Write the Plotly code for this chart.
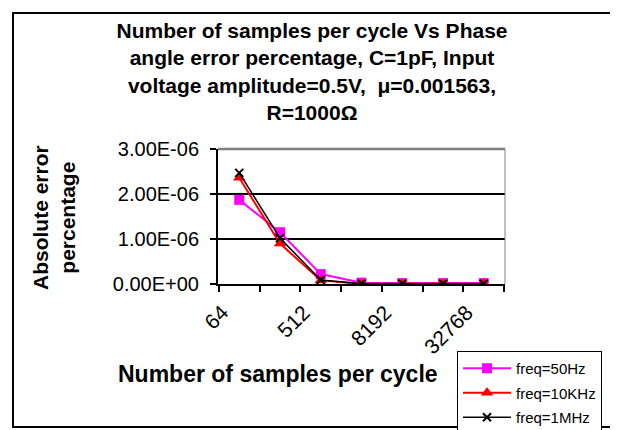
import plotly.graph_objects as go

# ---- data ----
samples = ["64", "256", "512", "2048", "8192", "16384", "32768"]
shown_labels = ["64", "", "512", "", "8192", "", "32768"]
err_50hz = [1.87e-6, 1.15e-6, 0.22e-6, 0.03e-6, 0.02e-6, 0.02e-6, 0.02e-6]
err_10khz = [2.36e-6, 0.90e-6, 0.08e-6, 0.005e-6, 0.004e-6, 0.004e-6, 0.004e-6]
err_1mhz = [2.47e-6, 1.02e-6, 0.09e-6, 0.005e-6, 0.004e-6, 0.004e-6, 0.004e-6]
y_tick_vals = [0, 1e-6, 2e-6, 3e-6]
y_tick_text = ["0.00E+00", "1.00E-06", "2.00E-06", "3.00E-06"]

FONT = "Liberation Sans, Arial, sans-serif"
OFF = 8                      # page body margin of the html page
W, H = 618 - OFF, 430 - OFF  # figure size so that it fills the window
# plot area in screen px of the reference
SL, SR, ST, SB = 218, 505, 149, 284
L, R, T, B = SL - OFF, SR - OFF, ST - OFF, SB - OFF


def px_x(p):   # screen px -> paper x
    return (p - OFF - L) / (R - L)


def px_y(p):   # screen px -> paper y
    return (B - (p - OFF)) / (B - T)


fig = go.Figure()
fig.add_trace(go.Scatter(
    x=samples, y=err_50hz, name="freq=50Hz", mode="lines+markers",
    line=dict(color="#FF00FF", width=2),
    marker=dict(symbol="square", size=10, color="#FF00FF"),
    legendgroup="a"))
fig.add_trace(go.Scatter(
    x=samples, y=err_10khz, name="freq=10KHz", mode="lines+markers",
    line=dict(color="#FF0000", width=2),
    marker=dict(symbol="triangle-up", size=11, color="#FF0000"),
    legendgroup="b"))
fig.add_trace(go.Scatter(
    x=samples, y=err_1mhz, name="freq=1MHz", mode="lines+markers",
    line=dict(color="#000000", width=1.5),
    marker=dict(symbol="x-thin", size=8, line=dict(color="#000000", width=2)),
    legendgroup="c"))

fig.update_layout(
    width=W, height=H,
    margin=dict(l=L, r=W - R, t=T, b=H - B, autoexpand=False),
    paper_bgcolor="white", plot_bgcolor="white",
    font=dict(family=FONT, color="black"),
    showlegend=True,
    title=dict(
        text="Number of samples per cycle Vs Phase<br>angle error percentage, C=1pF, Input<br>"
             "voltage amplitude=0.5V,  \u03bc=0.001563,<br>R=1000\u03a9",
        font=dict(family=FONT, size=21, color="black", weight="bold"),
        x=(312 - OFF) / W, xanchor="center", xref="container",
        y=1 - 30 / H, yanchor="top", yref="container"),
    legend=dict(
        xref="container", yref="container",
        x=(457 - OFF) / W, y=1 - (351 - OFF) / H, xanchor="left", yanchor="top",
        bgcolor="white", bordercolor="black", borderwidth=1,
        font=dict(family=FONT, size=15, color="black"),
        tracegroupgap=2, itemwidth=48),
    xaxis=dict(
        type="category", tickson="boundaries", automargin=False,
        tickvals=samples, ticktext=shown_labels,
        tickangle=-45, tickfont=dict(family=FONT, size=21, color="black"),
        ticks="outside", ticklen=6, tickwidth=1.5, tickcolor="black",
        showline=True, linecolor="black", linewidth=2,
        showgrid=False, zeroline=False, ticklabelstandoff=6,
        ticklabelshift=-17),
    yaxis=dict(
        range=[0, 3e-6], tickvals=y_tick_vals, ticktext=y_tick_text,
        automargin=False,
        tickfont=dict(family=FONT, size=20, color="black"),
        ticks="outside", ticklen=6, tickwidth=1.5, tickcolor="black",
        showline=True, linecolor="black", linewidth=2,
        showgrid=True, gridcolor="black", gridwidth=1.8,
        zeroline=False, ticklabelstandoff=7),
)

# plot-area border (grey) top & right
fig.add_shape(type="line", xref="paper", yref="paper", x0=0, x1=1, y0=1, y1=1,
              line=dict(color="#808080", width=2.5), layer="above")
fig.add_shape(type="line", xref="paper", yref="paper", x0=1, x1=1, y0=0, y1=1,
              line=dict(color="#808080", width=1), layer="above")
# chart frame
fig.add_shape(type="rect", xref="paper", yref="paper",
              x0=px_x(13), x1=px_x(612), y0=px_y(427), y1=px_y(13),
              line=dict(color="black", width=2), layer="below")

fig.add_annotation(text="Number of samples per cycle", xref="paper", yref="paper",
                   x=px_x(278), y=px_y(374), showarrow=False,
                   xanchor="center", yanchor="middle",
                   font=dict(family=FONT, size=23, color="black", weight="bold"))
fig.add_annotation(text="Absolute error<br>percentage", xref="paper", yref="paper",
                   x=px_x(54), y=px_y(218), showarrow=False, textangle=-90,
                   xanchor="center", yanchor="middle",
                   font=dict(family=FONT, size=21, color="black", weight="bold"))

fig.write_html("out.html")
